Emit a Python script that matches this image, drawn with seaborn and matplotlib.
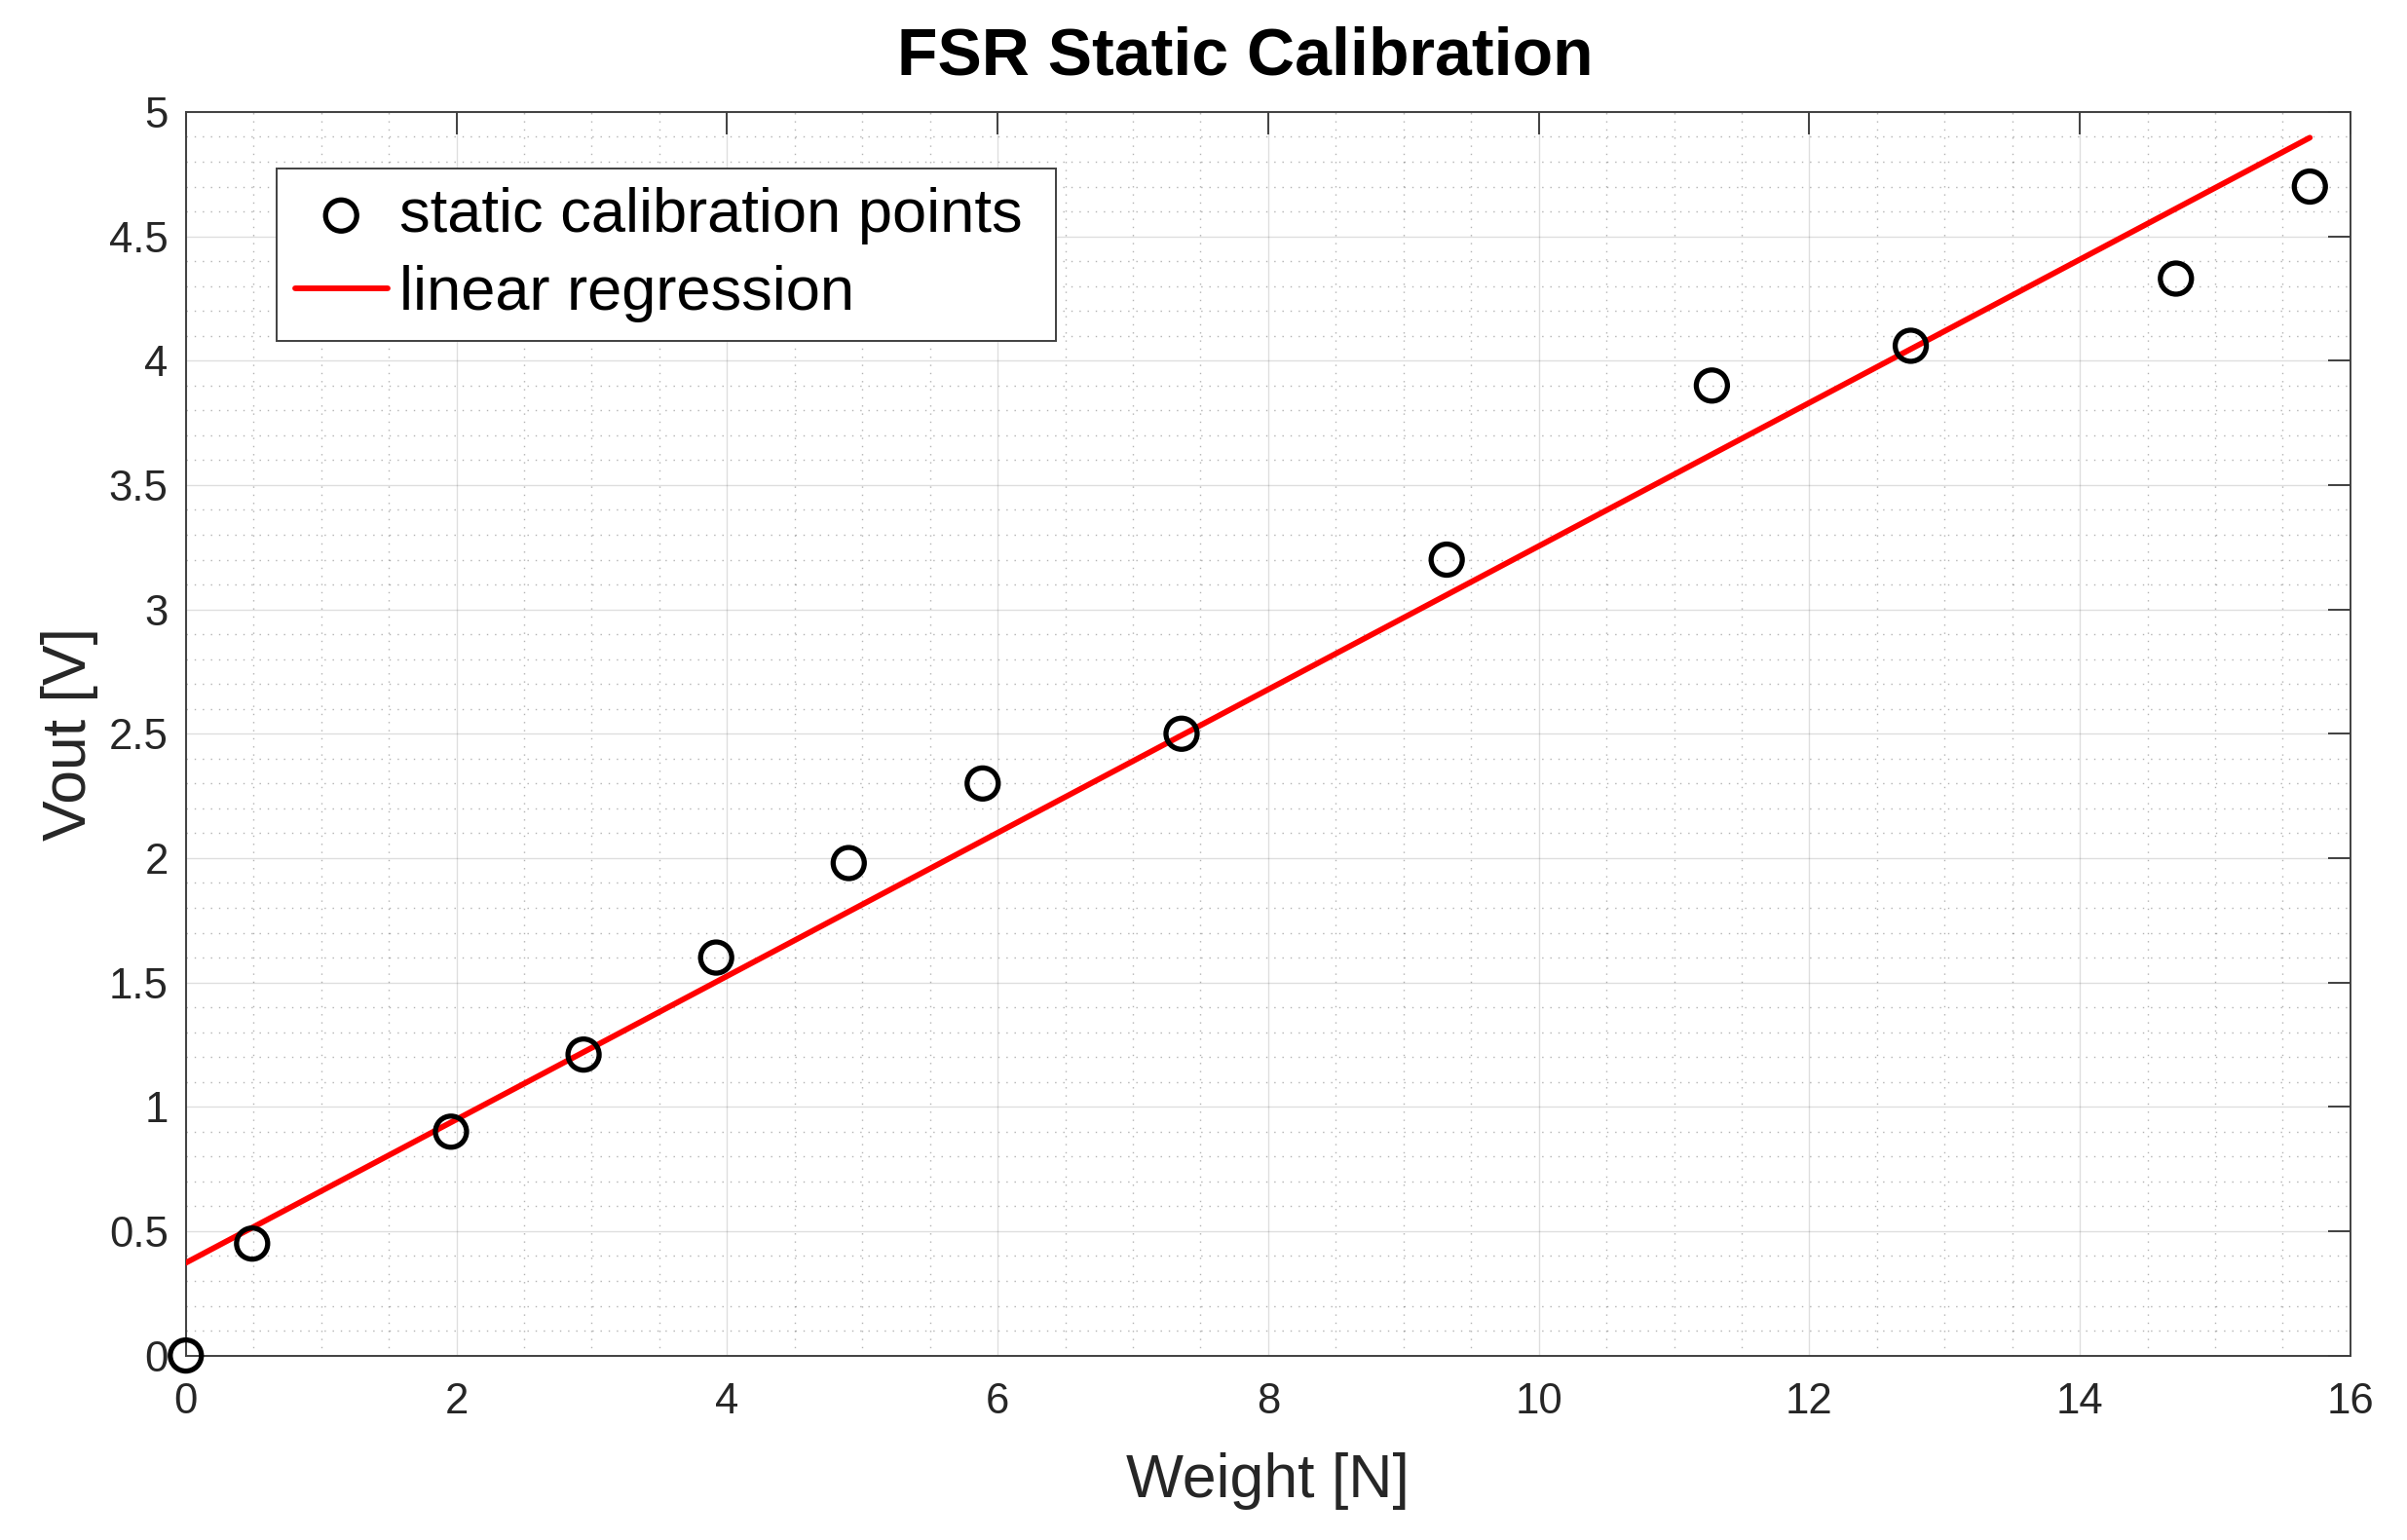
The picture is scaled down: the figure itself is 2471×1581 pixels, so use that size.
import numpy as np
import pandas as pd
import matplotlib
matplotlib.use("Agg")
import matplotlib.pyplot as plt
from matplotlib.ticker import MultipleLocator
import seaborn as sns

# ---- data ----
weight_N = [0.0, 0.49, 1.96, 2.94, 3.92, 4.90, 5.89, 7.36, 9.32, 11.28, 12.75, 14.71, 15.70]
vout_V = [0.0, 0.45, 0.90, 1.21, 1.60, 1.98, 2.30, 2.50, 3.20, 3.90, 4.06, 4.33, 4.70]
x_ticks = [0, 2, 4, 6, 8, 10, 12, 14, 16]
y_ticks = [0, 0.5, 1, 1.5, 2, 2.5, 3, 3.5, 4, 4.5, 5]
y_tick_labels = ["0", "0.5", "1", "1.5", "2", "2.5", "3", "3.5", "4", "4.5", "5"]

df = pd.DataFrame({"Weight": weight_N, "Vout": vout_V})

sns.set_theme(style="white")
plt.rcParams["font.family"] = ["Liberation Sans", "DejaVu Sans"]

AX_COL = "#262626"

fig = plt.figure(figsize=(24.71, 15.81), dpi=100)
ax = fig.add_axes([0.0772, 0.1198, 0.8993, 0.8075])

# regression line
sns.regplot(data=df, x="Weight", y="Vout", ax=ax, scatter=False, ci=None,
            truncate=True, color="#ff0000",
            line_kws={"linewidth": 4.2, "zorder": 3})
reg_line = ax.lines[-1]
reg_line.set_label("linear regression")

# calibration points
sns.scatterplot(data=df, x="Weight", y="Vout", ax=ax, marker="o", s=530,
                facecolors="none", edgecolors="black", linewidths=3.8,
                clip_on=False, zorder=4, legend=False)
pts = ax.collections[-1]
pts.set_label("static calibration points")

ax.set_xlim(0, 16)
ax.set_ylim(0, 5)
ax.set_xticks(x_ticks)
ax.set_xticklabels([str(t) for t in x_ticks])
ax.set_yticks(y_ticks)
ax.set_yticklabels(y_tick_labels)
ax.xaxis.set_minor_locator(MultipleLocator(0.5))
ax.yaxis.set_minor_locator(MultipleLocator(0.1))

ax.grid(True, which="major", color=AX_COL, alpha=0.15, linewidth=1.0, linestyle="-")
ax.grid(True, which="minor", color=AX_COL, alpha=0.35, linewidth=1.0, linestyle=(0, (1, 5)))
ax.set_axisbelow(True)

ax.tick_params(which="major", direction="in", length=16.5, width=1.4, color="#404040",
               top=True, right=True, labelsize=31.5, labelcolor=AX_COL)
ax.tick_params(axis="x", which="major", pad=20)
ax.tick_params(axis="y", which="major", pad=13)
ax.tick_params(which="minor", length=0, top=True, right=True)

for sp in ax.spines.values():
    sp.set_color("#404040")
    sp.set_linewidth(1.4)

ax.set_xlabel("Weight [N]", fontsize=45, color=AX_COL, labelpad=22)
ax.set_ylabel("Vout [V]", fontsize=45, color=AX_COL, labelpad=8)
ax.set_title("FSR Static Calibration", fontsize=49, fontweight="bold",
             color="black", x=0.4896, pad=28)

leg = ax.legend([pts, reg_line], ["static calibration points", "linear regression"],
                loc="upper left", bbox_to_anchor=(0.0419, 0.9546, 0.360, 0.0),
                mode="expand", borderaxespad=0,
                fontsize=45.5, frameon=True, fancybox=False, framealpha=1,
                edgecolor="#404040", borderpad=0.3, labelspacing=0.34,
                handlelength=1.5, handletextpad=0.2)
leg.get_frame().set_linewidth(1.4)
for t in leg.get_texts():
    t.set_color("black")

fig.savefig("out.png", dpi=100, facecolor="white")
